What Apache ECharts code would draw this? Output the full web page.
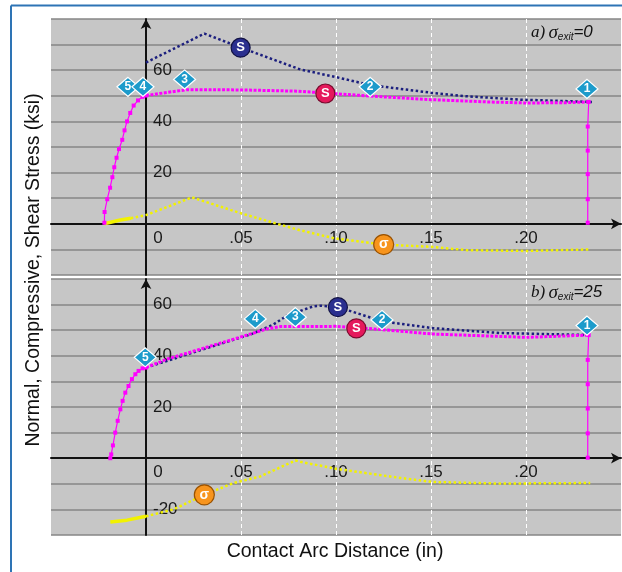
<!DOCTYPE html>
<html>
<head>
<meta charset="utf-8">
<script src="https://cdn.jsdelivr.net/npm/echarts@6/dist/echarts.min.js"></script>
<style>
  html, body { margin: 0; padding: 0; background: #ffffff; }
  #chart { width: 622px; height: 572px; }
</style>
</head>
<body>
<div id="chart"></div>
<script>
// ---- Panel a) sigma_exit = 0 ----
// Shear stress S (navy)
const shearA = [[0, 63], [0.0307, 74.3], [0.05, 68.8], [0.0812, 60.3], [0.10, 57.3], [0.118, 54.2],
  [0.15, 51.2], [0.169, 49.8], [0.197, 48.5], [0.2347, 47.6]];
// Normal stress s (magenta): entry rise, plateau, exit drop
const normalRiseA = [[-0.0219, 0.4], [-0.0218, 4.6], [-0.0204, 9.6], [-0.0189, 14.1], [-0.0177, 18.2],
  [-0.0167, 22.1], [-0.0155, 25.8], [-0.0142, 29.2], [-0.0125, 32.8], [-0.0113, 36.5], [-0.0100, 40.0],
  [-0.0083, 43.3], [-0.0065, 46.2], [-0.0042, 48.2], [-0.0018, 49.6], [0, 50.1]];
const normalTopA = [[0, 50.1], [0.01, 51.2], [0.0216, 52.4], [0.05, 52.3], [0.08, 51.8], [0.10, 50.8],
  [0.12, 49.8], [0.15, 48.5], [0.18, 47.6], [0.20, 47.2], [0.22, 47.3], [0.233, 47.6]];
const normalDropA = [[0.233, 47.6], [0.2325, 38.0], [0.2325, 28.6], [0.2325, 19.4], [0.2325, 9.6], [0.2325, 0.4]];
// Compressive stress sigma (yellow)
const sigmaEntryA = [[-0.022, 0], [-0.0135, 1.5], [-0.008, 2.2]];
const sigmaA = [[-0.008, 2.2], [0, 3.4], [0.0242, 10.3], [0.05, 4.1], [0.069, 0], [0.081, -2.5],
  [0.0993, -5.7], [0.125, -8.1], [0.15, -9.0], [0.169, -10.3], [0.20, -10.6], [0.2338, -10.0]];
// Point tags and curve badges
const diamondsA = [[-0.0095, 53.5, '5'], [-0.0016, 53.5, '4'], [0.0203, 56.4, '3'], [0.118, 53.5, '2'], [0.2321, 52.7, '1']];
const shearBadgeA = [[0.0498, 68.8]];
const normalBadgeA = [[0.0944, 50.9]];
const sigmaBadgeA = [[0.1251, -8.1]];

// ---- Panel b) sigma_exit = 25 ----
const shearB = [[0, 35.4], [0.03, 42.5], [0.055, 48.3], [0.067, 52.2], [0.0742, 55.7], [0.088, 59.3],
  [0.092, 59.6], [0.101, 59.0], [0.1163, 55.4], [0.125, 53.4], [0.151, 50.8], [0.1865, 48.9], [0.2338, 48.1]];
const normalRiseB = [[-0.0188, 0], [-0.0183, 1.5], [-0.0174, 5.0], [-0.0162, 10.0], [-0.0149, 14.6],
  [-0.0135, 19.1], [-0.0123, 22.4], [-0.0109, 25.6], [-0.0092, 28.2], [-0.0074, 30.9], [-0.0056, 32.8],
  [-0.0039, 34.1], [-0.0018, 35.1], [0, 35.4]];
const normalTopB = [[0, 35.4], [0.011, 38.7], [0.0286, 42.6], [0.0461, 46.5], [0.0637, 50.5], [0.0707, 51.4],
  [0.10, 51.5], [0.12, 50.5], [0.151, 48.5], [0.2005, 47.2], [0.233, 48.1]];
const normalDropB = [[0.233, 48.1], [0.2325, 38.4], [0.2325, 28.9], [0.2325, 19.4], [0.2325, 9.7], [0.2325, 0.2]];
const sigmaEntryB = [[-0.0188, -24.9], [-0.01, -24.2], [0, -22.7]];
const sigmaB = [[0, -22.7], [0.0145, -20.0], [0.0307, -14.3], [0.0461, -9.7], [0.0602, -7.1], [0.0786, -0.9],
  [0.0812, -1.4], [0.1005, -4.2], [0.1338, -7.7], [0.151, -9.3], [0.1865, -9.9], [0.2338, -9.7]];
const diamondsB = [[-0.0004, 39.4, '5'], [0.0575, 54.4, '4'], [0.0786, 55.1, '3'], [0.1242, 54.0, '2'], [0.2321, 51.8, '1']];
const shearBadgeB = [[0.101, 59.0]];
const normalBadgeB = [[0.1107, 50.7]];
const sigmaBadgeB = [[0.0307, -14.3]];

// Axis ticks
const xTickLabels = { '0': '0', '0.05': '.05', '0.1': '.10', '0.15': '.15', '0.2': '.20' };
const yTicksA = [20, 40, 60];
const yTicksB = [-20, 20, 40, 60];

const COLORS = {
  shear: '#1c1f7e', normal: '#ff00ff', sigma: '#f2f200',
  diamond: '#1d9bcb', shearBadge: '#2a2f8f', normalBadge: '#e5195c', sigmaBadge: '#f7941d',
  plot: '#c6c6c6', grid: '#868686'
};
const FONT = 'Liberation Sans, Arial, sans-serif';

const PLOT_W = 570, PLOT_H = 256;
const X_MIN = -0.05, X_MAX = 0.25;

// Axes cross at the origin: shift each axis (line and labels) onto the other's zero.
function xAxisFor(gi, yMin, yMax) {
  const lift = PLOT_H * (0 - yMin) / (yMax - yMin);
  return {
    type: 'value', gridIndex: gi, min: X_MIN, max: X_MAX, interval: 0.05,
    position: 'bottom', offset: -lift,
    axisLine: { onZero: false, lineStyle: { color: '#111', width: 2 }, symbol: ['none', 'arrow'], symbolSize: [8, 10] },
    axisTick: { show: false },
    axisLabel: {
      margin: 6, color: '#1a1a1a', fontSize: 17, fontFamily: FONT,
      showMinLabel: false, showMaxLabel: false,
      formatter: v => {
        const key = String(Math.round(v * 100) / 100);
        if (key === '0') return '{z|0}';
        return xTickLabels[key] || '';
      },
      rich: { z: { fontSize: 17, fontFamily: FONT, color: '#1a1a1a', padding: [0, 0, 0, 24] } }
    },
    splitLine: { show: true, showMinLine: false, showMaxLine: false, lineStyle: { color: '#ffffff', type: [4, 3], width: 1 } }
  };
}
function yAxisFor(gi, min, max, ticks) {
  const shift = PLOT_W * (0 - X_MIN) / (X_MAX - X_MIN);
  return {
    type: 'value', gridIndex: gi, min: min, max: max, interval: 10,
    position: 'left', offset: -shift,
    axisLine: { onZero: false, lineStyle: { color: '#111', width: 2 }, symbol: ['none', 'arrow'], symbolSize: [8, 10] },
    axisTick: { show: false },
    axisLabel: {
      inside: true, margin: 7, color: '#1a1a1a', fontSize: 17, fontFamily: FONT,
      formatter: v => ticks.indexOf(Math.round(v)) >= 0 ? String(Math.round(v)) : ''
    },
    splitLine: { show: true, lineStyle: { color: COLORS.grid, width: 1.5 } }
  };
}

function line(data, gi, color, width, type, markers) {
  return {
    type: 'line', xAxisIndex: gi, yAxisIndex: gi, data: data, z: 3,
    showSymbol: !!markers, symbol: 'rect', symbolSize: 4,
    itemStyle: { color: color },
    lineStyle: { color: color, width: width, type: type },
    silent: true, animation: false
  };
}
function badges(data, gi, symbol, size, fill, border, fontSize) {
  return {
    type: 'scatter', xAxisIndex: gi, yAxisIndex: gi, z: 6,
    data: data.map(d => ({ value: [d[0], d[1]], tag: d[2] })),
    symbol: symbol, symbolSize: size,
    itemStyle: { color: fill, borderColor: border, borderWidth: 1.2, opacity: 1 },
    label: {
      show: true, position: 'inside', color: '#ffffff', fontWeight: 'bold',
      fontSize: fontSize, fontFamily: FONT,
      formatter: p => p.data.tag
    },
    silent: true, animation: false
  };
}
function panelSeries(gi, s) {
  return [
    line(s.sigmaEntry, gi, COLORS.sigma, 3.5, 'solid', false),
    line(s.sigma, gi, COLORS.sigma, 2.5, 'dotted', false),
    line(s.shear, gi, COLORS.shear, 2.5, 'dotted', false),
    line(s.normalRise, gi, COLORS.normal, 1.2, 'solid', true),
    line(s.normalTop, gi, COLORS.normal, 3, [3, 1.5], false),
    line(s.normalDrop, gi, COLORS.normal, 1.2, 'solid', true),
    badges(s.diamonds, gi, 'diamond', [22, 19], COLORS.diamond, '#ffffff', 12),
    badges(s.shearBadge.map(d => [d[0], d[1], 'S']), gi, 'circle', 19, COLORS.shearBadge, '#111144', 13),
    badges(s.normalBadge.map(d => [d[0], d[1], 'S']), gi, 'circle', 19, COLORS.normalBadge, '#7a0a2e', 13),
    badges(s.sigmaBadge.map(d => [d[0], d[1], 'σ']), gi, 'circle', 20, COLORS.sigmaBadge, '#9a5200', 14)
  ];
}

function caseLabel(x, y, letter, value) {
  return {
    type: 'text', left: x, top: y, z: 10,
    style: {
      text: '{p|' + letter + ')} {s|σ}{sub|exit}{v|=' + value + '}',
      rich: {
        p: { fontFamily: 'Liberation Serif, serif', fontStyle: 'italic', fontSize: 17, fill: '#111', lineHeight: 20 },
        s: { fontFamily: 'Liberation Serif, serif', fontStyle: 'italic', fontSize: 19, fill: '#111', lineHeight: 20 },
        sub: { fontFamily: FONT, fontStyle: 'italic', fontSize: 10, fill: '#111', lineHeight: 20, verticalAlign: 'bottom', padding: [6, 0, 0, 0] },
        v: { fontFamily: FONT, fontStyle: 'italic', fontSize: 17, fill: '#111', lineHeight: 20 }
      }
    }
  };
}

const chart = echarts.init(document.getElementById('chart'), null, { renderer: 'canvas' });
chart.setOption({
  backgroundColor: '#ffffff',
  animation: false,
  grid: [
    { left: 51, top: 19, width: PLOT_W, height: PLOT_H, show: true, backgroundColor: COLORS.plot, borderWidth: 0 },
    { left: 51, top: 279, width: PLOT_W, height: PLOT_H, show: true, backgroundColor: COLORS.plot, borderWidth: 0 }
  ],
  xAxis: [xAxisFor(0, -20, 80), xAxisFor(1, -30, 70)],
  yAxis: [yAxisFor(0, -20, 80, yTicksA), yAxisFor(1, -30, 70, yTicksB)],
  series: [].concat(
    panelSeries(0, { shear: shearA, normalRise: normalRiseA, normalTop: normalTopA, normalDrop: normalDropA,
      sigmaEntry: sigmaEntryA, sigma: sigmaA, diamonds: diamondsA, shearBadge: shearBadgeA,
      normalBadge: normalBadgeA, sigmaBadge: sigmaBadgeA }),
    panelSeries(1, { shear: shearB, normalRise: normalRiseB, normalTop: normalTopB, normalDrop: normalDropB,
      sigmaEntry: sigmaEntryB, sigma: sigmaB, diamonds: diamondsB, shearBadge: shearBadgeB,
      normalBadge: normalBadgeB, sigmaBadge: sigmaBadgeB })
  ),
  graphic: [
    // frame lines
    { type: 'line', shape: { x1: 11, y1: 5.5, x2: 622, y2: 5.5 }, style: { stroke: '#2e74b5', lineWidth: 2 }, z: 10 },
    { type: 'line', shape: { x1: 11, y1: 5.5, x2: 11, y2: 572 }, style: { stroke: '#2e74b5', lineWidth: 2 }, z: 10 },
    // axis titles
    { type: 'text', x: 34, y: 270, rotation: Math.PI / 2, z: 10,
      style: { text: 'Normal, Compressive, Shear Stress (ksi)', font: '19.5px ' + FONT, fill: '#111', align: 'center', verticalAlign: 'middle' } },
    { type: 'text', x: 335, y: 552, z: 10,
      style: { text: 'Contact Arc Distance (in)', font: '19.5px ' + FONT, fill: '#111', align: 'center', verticalAlign: 'middle' } },
    caseLabel(531, 23, 'a', '0'),
    caseLabel(531, 283, 'b', '25')
  ]
});
</script>
</body>
</html>
